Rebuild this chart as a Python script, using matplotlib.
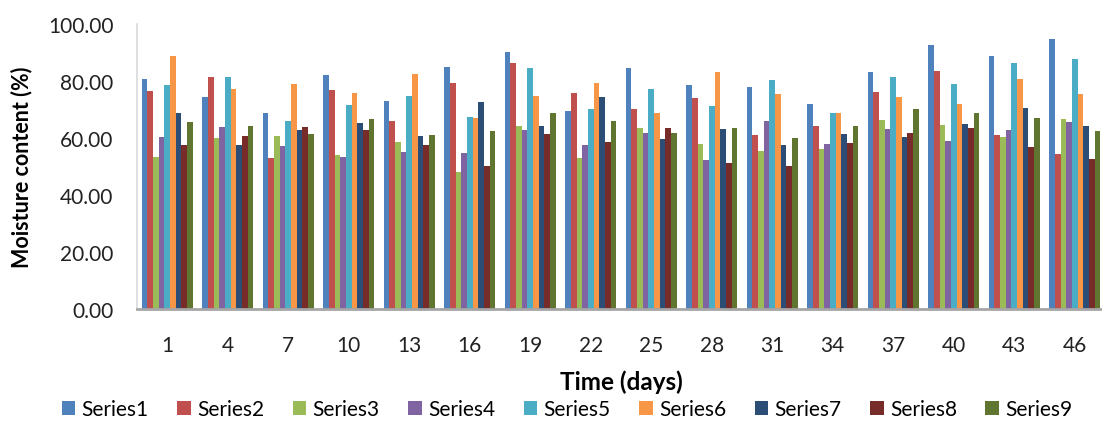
import numpy as np
import matplotlib.pyplot as plt

plt.rcParams['font.family'] = ['Lato', 'DejaVu Sans']

days = ['1', '4', '7', '10', '13', '16', '19', '22', '25', '28', '31', '34', '37', '40', '43', '46']

series1 = [80.7, 74.3, 68.7, 82.2, 73.1, 85.0, 90.3, 69.5, 84.7, 78.6, 77.8, 71.8, 83.0, 92.5, 88.7, 94.6]
series2 = [76.6, 81.5, 53.1, 76.7, 65.8, 79.4, 86.3, 75.8, 70.3, 73.9, 61.1, 64.3, 76.3, 83.5, 61.1, 54.3]
series3 = [53.2, 59.9, 60.7, 53.9, 58.7, 48.0, 64.2, 53.1, 63.5, 57.9, 55.4, 56.3, 66.3, 64.7, 60.2, 66.7]
series4 = [60.2, 64.0, 57.1, 53.5, 55.1, 54.6, 62.7, 57.5, 61.9, 52.3, 65.8, 57.9, 63.0, 59.1, 62.7, 65.5]
series5 = [78.6, 81.5, 65.8, 71.5, 74.6, 67.5, 84.7, 70.3, 77.1, 71.1, 80.2, 68.7, 81.4, 79.1, 86.2, 87.8]
series6 = [88.7, 77.2, 78.9, 75.8, 82.6, 67.0, 74.7, 79.4, 68.7, 83.0, 75.4, 68.7, 74.3, 71.8, 80.7, 75.4]
series7 = [68.7, 57.5, 62.7, 65.1, 60.7, 72.6, 64.2, 74.3, 59.5, 63.0, 57.5, 61.5, 60.2, 65.0, 70.6, 64.3]
series8 = [57.5, 60.8, 63.9, 62.7, 57.5, 50.3, 61.5, 58.7, 63.5, 51.1, 50.3, 58.2, 61.9, 63.5, 56.7, 52.6]
series9 = [65.5, 64.3, 61.5, 66.7, 61.1, 62.3, 68.7, 65.8, 61.9, 63.5, 59.9, 64.3, 70.3, 68.7, 67.1, 62.3]

all_series = [series1, series2, series3, series4, series5, series6, series7, series8, series9]
names = ['Series%d' % (i + 1) for i in range(9)]
colors = ['#4F81BD', '#C0504D', '#9BBB59', '#8064A2', '#4BACC6',
          '#F79646', '#2C4D75', '#772C2A', '#5F7530']

fig = plt.figure(figsize=(11.02, 4.31), dpi=100)
# plot area runs slightly past the right edge of the figure
ax = fig.add_axes([137 / 1102, 121 / 431, 968 / 1102, 285 / 431])

x = np.arange(len(days))
w = 0.843 / 9
for i, vals in enumerate(all_series):
    ax.bar(x - 0.843 / 2 + w * (i + 0.5), vals, width=w, color=colors[i],
           label=names[i], linewidth=0)

ax.set_xlim(-0.5, len(days) - 0.5)
ax.set_ylim(0, 100)
ax.set_yticks(np.arange(0, 101, 20))
ax.set_yticklabels(['%.2f' % v for v in np.arange(0, 101, 20)])
ax.set_xticks(x)
ax.set_xticklabels(days)
ax.tick_params(axis='both', length=0, labelsize=15, colors='#222222')
ax.tick_params(axis='x', pad=19)
ax.tick_params(axis='y', pad=17)

for side in ['top', 'right']:
    ax.spines[side].set_visible(False)
ax.spines['left'].set_color('#d9d9d9')
ax.spines['left'].set_linewidth(1.2)
ax.spines['bottom'].set_color('#a6a6a6')
ax.spines['bottom'].set_linewidth(2)

ax.set_ylabel('Moisture content (%)', fontsize=15.5, fontweight='bold', labelpad=11)
ax.set_xlabel('Time (days)', fontsize=17.5, fontweight='bold', labelpad=10)

ax.legend(loc='center', bbox_to_anchor=(567 / 1102, 21 / 431),
          bbox_transform=fig.transFigure, ncol=9, frameon=False,
          fontsize=15, handlelength=0.65, handleheight=0.65,
          handletextpad=0.3, columnspacing=1.37)

fig.savefig('out.png', dpi=100)
